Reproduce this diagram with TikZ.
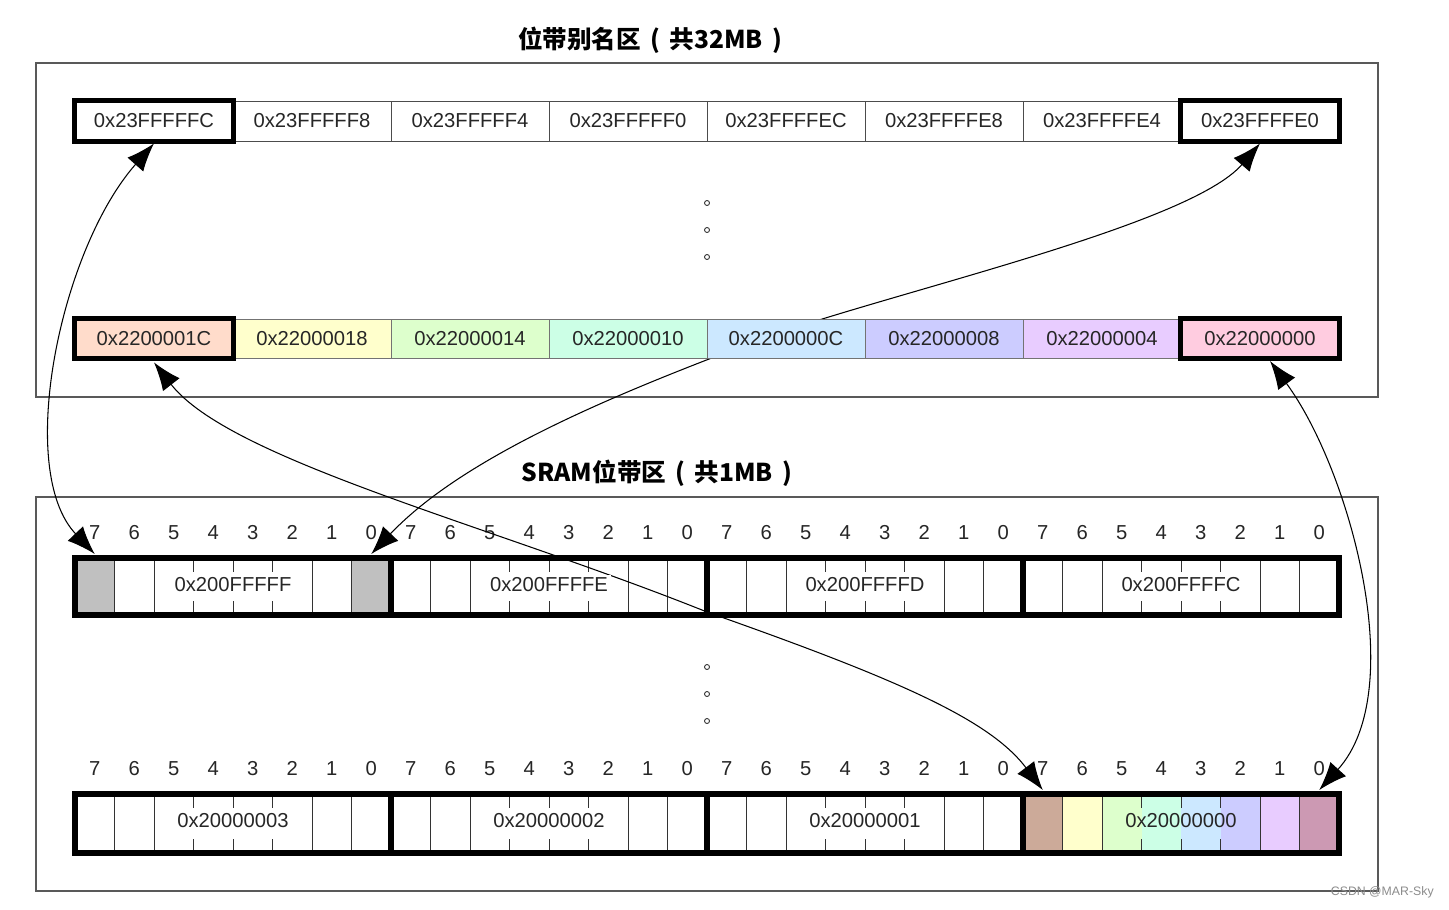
\documentclass[tikz,border=0pt]{standalone}
\usepackage{fontspec}
\setmainfont{Liberation Sans}
\newfontfamily\cjk{Noto Sans CJK SC}
\usetikzlibrary{arrows.meta}
\definecolor{cA}{HTML}{FFDCCB}
\definecolor{cB}{HTML}{FFFFCC}
\definecolor{cC}{HTML}{DDFFCC}
\definecolor{cD}{HTML}{CCFFE6}
\definecolor{cE}{HTML}{CCE8FF}
\definecolor{cF}{HTML}{CCCCFF}
\definecolor{cG}{HTML}{E8CCFF}
\definecolor{cH}{HTML}{FFCCE0}
\definecolor{bA}{HTML}{CCAA99}
\definecolor{bH}{HTML}{CC99B3}
\definecolor{grayfill}{HTML}{C0C0C0}
\tikzset{
  frame/.style={draw=black!65, line width=0.9pt},
  titletext/.style={font=\cjk\bfseries\fontsize{14}{16}\selectfont, inner sep=0pt},
  addr/.style={draw=black!70, line width=0.5pt, minimum width=3.16cm, minimum height=0.8cm,
    inner sep=0pt, font=\fontsize{11.5}{13}\selectfont, text=black!85},
  caddr/.style={addr, draw=black!55, minimum height=0.78cm},
  sel/.style={draw=black, line width=3pt},
  bitcell/.style={minimum width=0.79cm, inner sep=0pt, outer sep=0pt},
  bitnum/.style={font=\fontsize{11.5}{13}\selectfont, text=black!85, inner sep=0pt,
    text height=8.2pt, text depth=0pt},
  thin/.style={draw=black!80, line width=0.5pt},
  bytebox/.style={draw=black, line width=3pt},
  bytelbl/.style={font=\fontsize{11.5}{13}\selectfont, text=black!85, inner sep=1.5pt,
    text height=8.2pt, text depth=0.5pt},
  link/.style={line width=0.6pt, {Latex[length=16pt,width=12pt]}-{Latex[length=16pt,width=12pt]}},
  dotc/.style={circle, draw=black!80, line width=0.5pt, inner sep=0pt, minimum size=0.1cm}
}
\newcommand{\pgap}{\hspace{0.38em}}
\begin{document}
\begin{tikzpicture}[x=0.02cm, y=-0.02cm]
\useasboundingbox (0,0) rectangle (1449,909);
\fill[white] (0,0) rectangle (1449,909);

% frames and titles
\draw[frame] (36,63) rectangle (1378,397);
\draw[frame] (36,497) rectangle (1378,891);
\node[titletext] (title1) at (650,40) {位带别名区\pgap{}(\pgap{}共32MB\pgap{})};
\node[titletext] (title2) at (657,473) {SRAM位带区\pgap{}(\pgap{}共1MB\pgap{})};

% dots
\foreach \n/\yy in {1/203,2/230,3/257,4/667,5/694,6/721}
  \node[dotc] (d\n) at (707,\yy) {};

% alias cells
\foreach \ii/\lab in {1/0x23FFFFFC,2/0x23FFFFF8,3/0x23FFFFF4,4/0x23FFFFF0,5/0x23FFFFEC,6/0x23FFFFE8,7/0x23FFFFE4,8/0x23FFFFE0}
  \node[addr] (t\ii) at ({154+158*(\ii-1)},121) {\lab};

% bit cells (invisible nodes)
\foreach \row/\yc/\hh in {1/586.5/1.14,2/823.5/1.18}{
  \foreach \kk in {1,...,4}{
    \foreach \ii in {0,...,7}{
      \node[bitcell, minimum height=\hh cm] (r\row k\kk b\ii) at ({75+316*(\kk-1)+(7-\ii)*39.5+19.75},\yc) {};
    }
  }
}

% connectors drawn beneath the colored row
\coordinate (c8s) at (1270,361);
\coordinate (m2) at (764,338);
\draw[link] ([yshift=-0.04cm]t1.south) .. controls (60,250) and (15,470) .. ([yshift=0.08cm]r1k1b7.north);
\draw[link] ([yshift=0.08cm]r1k1b0.north) .. controls (470,450) and (640,385) .. (m2)
   .. controls (900,290) and (1190,225) .. ([yshift=-0.04cm]t8.south);
\draw[link] (c8s) .. controls (1350,470) and (1410,690) .. ([yshift=0.08cm]r2k4b0.north);

% colored alias row
\foreach \ii/\lab/\cc in {1/0x2200001C/cA,2/0x22000018/cB,3/0x22000014/cC,4/0x22000010/cD,5/0x2200000C/cE,6/0x22000008/cF,7/0x22000004/cG,8/0x22000000/cH}
  \node[caddr, fill=\cc] (c\ii) at ({154+158*(\ii-1)},338.5) {\lab};

\draw[sel] (t1.north west) rectangle (t1.south east);
\draw[sel] (t8.north west) rectangle (t8.south east);
\draw[sel] (c1.north west) rectangle (c1.south east);
\draw[sel] (c8.north west) rectangle (c8.south east);

% fills of bit cells
\fill[grayfill] (r1k1b7.north west) rectangle (r1k1b7.south east);
\fill[grayfill] (r1k1b0.north west) rectangle (r1k1b0.south east);
\foreach \ii/\cc in {7/bA,6/cB,5/cC,4/cD,3/cE,2/cF,1/cG,0/bH}
  \fill[\cc] (r2k4b\ii.north west) rectangle (r2k4b\ii.south east);

% bit lines, numbers, byte boxes
\foreach \row in {1,2}{
  \foreach \kk in {1,...,4}{
    \foreach \ii in {7,6,2,1}{
      \draw[thin] (r\row k\kk b\ii.north east) -- (r\row k\kk b\ii.south east);
    }
    \foreach \ii in {5,4,3}{
      \draw[thin] (r\row k\kk b\ii.north east) -- ++(0,14);
      \draw[thin] (r\row k\kk b\ii.south east) -- ++(0,-14);
    }
    \foreach \ii in {0,...,7}{
      \node[bitnum] (n\row k\kk b\ii) at ([yshift=0.52cm]r\row k\kk b\ii.north) {\ii};
    }
  }
  \draw[bytebox] (r\row k1b7.north west) rectangle (r\row k4b0.south east);
  \foreach \kk in {1,2,3}
    \draw[bytebox] (r\row k\kk b0.north east) -- (r\row k\kk b0.south east);
}

% connector drawn over the bytes
\draw[link] ([yshift=-0.08cm]c1.south) .. controls (230,460) and (490,525) .. (707,612)
   .. controls (900,680) and (990,720) .. ([yshift=0.08cm]r2k4b7.north);

% byte labels
\node[bytelbl, fill=white] (L11) at ([yshift=0.03cm]r1k1b4.east) {0x200FFFFF};
\node[bytelbl, fill=white] (L12) at ([yshift=0.03cm]r1k2b4.east) {0x200FFFFE};
\node[bytelbl, fill=white] (L13) at ([yshift=0.03cm]r1k3b4.east) {0x200FFFFD};
\node[bytelbl, fill=white] (L14) at ([yshift=0.03cm]r1k4b4.east) {0x200FFFFC};
\node[bytelbl, fill=white] (L21) at ([yshift=0.05cm]r2k1b4.east) {0x20000003};
\node[bytelbl, fill=white] (L22) at ([yshift=0.05cm]r2k2b4.east) {0x20000002};
\node[bytelbl, fill=white] (L23) at ([yshift=0.05cm]r2k3b4.east) {0x20000001};
\node[bytelbl] (L24) at ([yshift=0.05cm]r2k4b4.east) {0x20000000};

% watermark
\node[font=\fontsize{7}{8}\selectfont, text=black!45, anchor=east, inner sep=0pt] (wm) at (1434,892) {CSDN @MAR-Sky};
\end{tikzpicture}
\end{document}
